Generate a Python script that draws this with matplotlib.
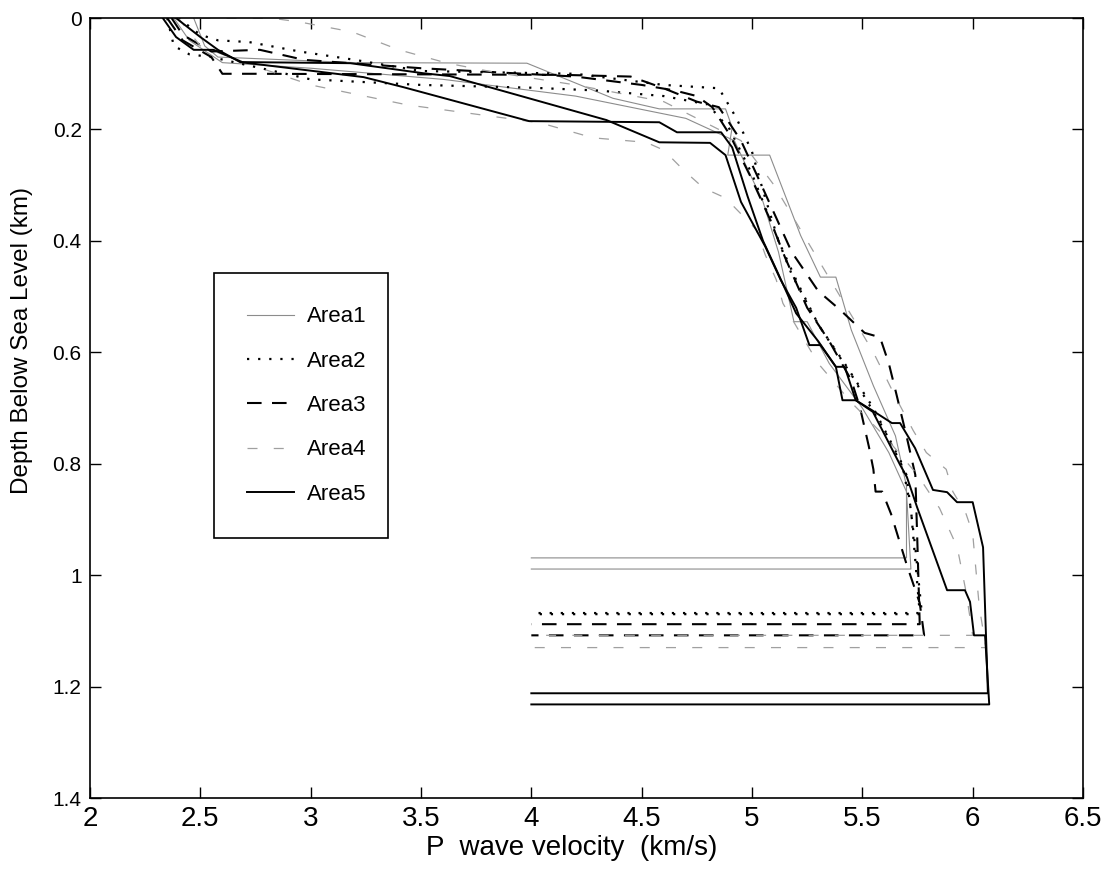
import matplotlib
matplotlib.use('Agg')
import matplotlib.pyplot as plt
from matplotlib.lines import Line2D

# velocity (km/s) / depth (km) profiles, two per area
area1_a_v = [2.47, 2.52, 2.58, 3.2, 3.98, 4.37, 4.58, 4.88, 4.91, 4.89, 5.08, 5.22, 5.31, 5.38, 5.45, 5.55, 5.65, 5.70, 5.70, 4.0]
area1_a_d = [0.0, 0.05, 0.07, 0.08, 0.081, 0.144, 0.163, 0.163, 0.196, 0.246, 0.246, 0.39, 0.465, 0.465, 0.56, 0.66, 0.75, 0.84, 0.969, 0.969]
area1_b_v = [2.38, 2.45, 2.6, 3.0, 3.6, 4.2, 4.7, 4.92, 5.05, 5.12, 5.19, 5.25, 5.35, 5.5, 5.62, 5.7, 5.72, 4.0]
area1_b_d = [0.0, 0.04, 0.08, 0.09, 0.11, 0.14, 0.18, 0.22, 0.33, 0.42, 0.545, 0.545, 0.62, 0.7, 0.78, 0.85, 0.989, 0.989]

area2_a_v = [2.4, 2.5, 2.58, 2.72, 2.95, 3.2, 3.5, 4.2, 4.6, 4.85, 4.93, 5.0, 5.05, 5.12, 5.2, 5.3, 5.42, 5.55, 5.68, 5.72, 5.76, 4.0]
area2_a_d = [0.0, 0.03, 0.04, 0.043, 0.06, 0.075, 0.095, 0.10, 0.12, 0.126, 0.18, 0.24, 0.31, 0.40, 0.47, 0.55, 0.62, 0.70, 0.80, 0.88, 1.068, 1.068]
area2_b_v = [2.35, 2.38, 2.45, 2.55, 3.0, 3.5, 4.0, 4.3, 4.6, 4.8, 4.9, 5.0, 5.1, 5.18, 5.3, 5.45, 5.6, 5.7, 5.74, 5.77, 4.0]
area2_b_d = [0.0, 0.05, 0.065, 0.07, 0.11, 0.12, 0.125, 0.13, 0.14, 0.155, 0.20, 0.28, 0.38, 0.46, 0.55, 0.64, 0.74, 0.82, 0.95, 1.07, 1.07]

area3_a_v = [2.35, 2.42, 2.55, 2.6, 2.75, 3.5, 4.15, 4.45, 4.6, 4.75, 4.85, 4.95, 5.02, 5.1, 5.18, 5.3, 5.40, 5.51, 5.58, 5.62, 5.65, 5.70, 5.74, 5.75, 5.76, 4.0]
area3_a_d = [0.0, 0.04, 0.07, 0.1, 0.1, 0.101, 0.102, 0.105, 0.126, 0.15, 0.16, 0.22, 0.28, 0.35, 0.42, 0.49, 0.524, 0.565, 0.573, 0.62, 0.668, 0.75, 0.82, 0.95, 1.088, 1.088]
area3_b_v = [2.37, 2.42, 2.55, 2.77, 2.97, 3.5, 4.2, 4.5, 4.65, 4.75, 4.82, 4.9, 5.0, 5.08, 5.15, 5.25, 5.35, 5.45, 5.49, 5.53, 5.55, 5.56, 5.59, 5.63, 5.70, 5.76, 5.78, 4.0]
area3_b_d = [0.0, 0.03, 0.06, 0.057, 0.075, 0.09, 0.105, 0.12, 0.13, 0.14, 0.16, 0.21, 0.29, 0.36, 0.43, 0.52, 0.58, 0.65, 0.70, 0.77, 0.81, 0.85, 0.85, 0.89, 0.98, 1.05, 1.108, 1.108]

area4_a_v = [2.5, 2.82, 2.95, 3.19, 3.40, 3.62, 3.83, 4.2, 4.6, 4.95, 5.1, 5.25, 5.4, 5.55, 5.65, 5.73, 5.79, 5.88, 5.91, 5.97, 6.0, 6.01, 6.03, 6.06, 4.0]
area4_a_d = [0.0, 0.0, 0.007, 0.025, 0.057, 0.081, 0.097, 0.12, 0.15, 0.22, 0.3, 0.4, 0.5, 0.6, 0.68, 0.74, 0.78, 0.81, 0.85, 0.89, 0.925, 0.97, 1.057, 1.13, 1.13]
area4_b_v = [2.4, 2.5, 2.7, 3.0, 3.44, 4.04, 4.28, 4.52, 4.60, 4.69, 4.78, 4.88, 5.02, 5.06, 5.11, 5.14, 5.19, 5.3, 5.45, 5.6, 5.75, 5.85, 5.93, 5.97, 6.0, 4.0]
area4_b_d = [0.0, 0.05, 0.08, 0.12, 0.156, 0.188, 0.215, 0.223, 0.237, 0.273, 0.305, 0.323, 0.38, 0.425, 0.47, 0.512, 0.546, 0.62, 0.69, 0.75, 0.82, 0.88, 0.95, 1.03, 1.108, 1.108]

area5_a_v = [2.33, 2.39, 2.47, 2.56, 2.69, 3.18, 3.51, 3.63, 4.34, 4.58, 4.81, 4.88, 4.95, 5.06, 5.13, 5.20, 5.26, 5.31, 5.38, 5.42, 5.47, 5.544, 5.634, 5.671, 5.739, 5.82, 5.884, 5.929, 6.0, 6.047, 6.069, 4.0]
area5_a_d = [0.0, 0.034, 0.057, 0.057, 0.079, 0.081, 0.099, 0.104, 0.183, 0.223, 0.224, 0.246, 0.33, 0.41, 0.47, 0.52, 0.587, 0.587, 0.626, 0.626, 0.686, 0.704, 0.727, 0.727, 0.772, 0.847, 0.851, 0.869, 0.869, 0.95, 1.212, 1.212]
area5_b_v = [2.39, 2.50, 2.58, 2.68, 3.24, 3.42, 3.99, 4.58, 4.66, 4.86, 4.91, 4.98, 5.05, 5.12, 5.20, 5.30, 5.38, 5.41, 5.47, 5.548, 5.671, 5.702, 5.748, 5.884, 5.965, 5.988, 6.006, 6.056, 6.075, 4.0]
area5_b_d = [0.0, 0.034, 0.057, 0.079, 0.106, 0.124, 0.185, 0.187, 0.205, 0.205, 0.232, 0.32, 0.40, 0.46, 0.53, 0.58, 0.626, 0.686, 0.686, 0.707, 0.802, 0.824, 0.878, 1.027, 1.027, 1.048, 1.108, 1.108, 1.232, 1.232]

area_names = ['Area1', 'Area2', 'Area3', 'Area4', 'Area5']
x_ticks = [2, 2.5, 3, 3.5, 4, 4.5, 5, 5.5, 6, 6.5]
x_tick_labels = ['2', '2.5', '3', '3.5', '4', '4.5', '5', '5.5', '6', '6.5']
y_ticks = [0, 0.2, 0.4, 0.6, 0.8, 1.0, 1.2, 1.4]
y_tick_labels = ['0', '0.2', '0.4', '0.6', '0.8', '1', '1.2', '1.4']

styles = [
    dict(color='#8c8c8c', lw=0.8, ls='-'),
    dict(color='black', lw=1.6, ls=(0, (1, 4))),
    dict(color='black', lw=1.5, ls=(0, (7, 5))),
    dict(color='#a0a0a0', lw=0.9, ls=(0, (8, 13))),
    dict(color='black', lw=1.4, ls='-'),
]

profiles = [
    [(area1_a_v, area1_a_d), (area1_b_v, area1_b_d)],
    [(area2_a_v, area2_a_d), (area2_b_v, area2_b_d)],
    [(area3_a_v, area3_a_d), (area3_b_v, area3_b_d)],
    [(area4_a_v, area4_a_d), (area4_b_v, area4_b_d)],
    [(area5_a_v, area5_a_d), (area5_b_v, area5_b_d)],
]

fig = plt.figure(figsize=(11.04, 8.69), dpi=100)
ax = fig.add_axes([0.0815, 0.0817, 0.8995, 0.8975])

for st, pair in zip(styles, profiles):
    for v, d in pair:
        ax.plot(v, d, **st)

narrow = ['Liberation Sans Narrow', 'Liberation Sans']

ax.set_xlim(2, 6.5)
ax.set_ylim(1.4, 0)
ax.set_xticks(x_ticks)
ax.set_xticklabels(x_tick_labels, fontsize=20, family=narrow)
ax.set_yticks(y_ticks)
ax.set_yticklabels(y_tick_labels, fontsize=15, family='Liberation Sans')
ax.tick_params(direction='in', length=8, width=1, top=True, right=True, pad=6)
for s in ax.spines.values():
    s.set_linewidth(1.2)

ax.set_xlabel('P  wave velocity  (km/s)', fontsize=20, family=narrow)
ax.xaxis.set_label_coords(0.485, -0.048)
ax.set_ylabel('Depth Below Sea Level (km)', fontsize=17.5, family=narrow)
ax.yaxis.set_label_coords(-0.057, 0.586)

handles = [Line2D([], [], **st) for st in styles]
leg = ax.legend(handles, area_names, loc='upper left',
                bbox_to_anchor=(0.125, 0.321, 0.175, 0.352),
                mode='expand', prop={'family': 'Liberation Sans', 'size': 16},
                frameon=True, fancybox=False, edgecolor='black',
                handlelength=2.1, handletextpad=0.6, labelspacing=1.05,
                borderpad=1.5, borderaxespad=0)
leg.get_frame().set_linewidth(1.2)
leg.get_frame().set_alpha(None)
leg.get_frame().set_facecolor('white')

fig.savefig('out.png', dpi=100)
